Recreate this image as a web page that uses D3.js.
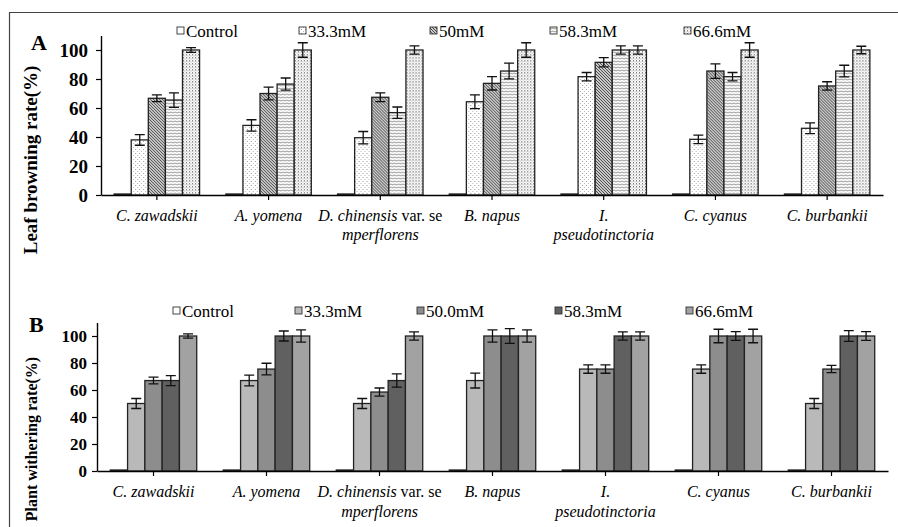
<!DOCTYPE html>
<html>
<head>
<meta charset="utf-8">
<script src="https://cdn.jsdelivr.net/npm/d3@7"></script>
<style>
  body { margin: 0; background: #fff; }
  svg { display: block; }
  text { font-family: "Liberation Serif", "Times New Roman", serif; fill: #000; }
</style>
</head>
<body>
<svg width="898" height="527"></svg>
<script>
// ---- data ----
const categories = ['C. zawadskii', 'A. yomena', 'D. chinensis var. semperflorens', 'B. napus',
  'I. pseudotinctoria', 'C. cyanus', 'C. burbankii'];
// label lines as printed under the axis
const categoryLines = [['C. zawadskii'], ['A. yomena'], ['D. chinensis var. se', 'mperflorens'],
  ['B. napus'], ['I.', 'pseudotinctoria'], ['C. cyanus'], ['C. burbankii']];

const seriesA = ['Control', '33.3mM', '50mM', '58.3mM', '66.6mM'];
const seriesB = ['Control', '33.3mM', '50.0mM', '58.3mM', '66.6mM'];
const yTicks = [0, 20, 40, 60, 80, 100];

// leaf browning rate (%), rows = categories, cols = series
const browning = [
  [0, 38, 66.7, 65.5, 100],
  [0, 48, 70, 76.5, 100],
  [0, 39.5, 67.4, 56.8, 100],
  [0, 64.3, 77, 85.5, 100],
  [0, 81.6, 91.5, 100, 100],
  [0, 38.4, 85.5, 81.6, 100],
  [0, 46, 75.2, 85.5, 100]
];
const browningErr = [
  [0, 3.7, 2.3, 5, 1.7],
  [0, 3.9, 4.4, 4.2, 5],
  [0, 4.3, 3, 3.9, 2.9],
  [0, 4.7, 4.6, 5.4, 5],
  [0, 2.9, 3.2, 2.9, 2.9],
  [0, 2.9, 5, 2.9, 5],
  [0, 3.7, 2.9, 4, 2.6]
];

// plant withering rate (%)
const withering = [
  [0, 50, 67, 67, 100],
  [0, 67, 75.5, 100, 100],
  [0, 50, 58.5, 67, 100],
  [0, 67, 100, 100, 100],
  [0, 75.5, 75.5, 100, 100],
  [0, 75.5, 100, 100, 100],
  [0, 50, 75.5, 100, 100]
];
const witheringErr = [
  [0, 3.7, 2.5, 3.7, 1.6],
  [0, 4, 4.3, 3.7, 4.6],
  [0, 3.7, 3, 4.9, 3.1],
  [0, 5.5, 4.6, 5.5, 4.6],
  [0, 3.1, 3.1, 3.1, 3.1],
  [0, 3.1, 5, 3.3, 5],
  [0, 3.7, 2.7, 4, 3.3]
];

// ---- drawing ----
const svg = d3.select('svg');
const defs = svg.append('defs');

function pattern(id, w, h, draw) {
  const p = defs.append('pattern')
    .attr('id', id)
    .attr('patternUnits', 'userSpaceOnUse')
    .attr('width', w)
    .attr('height', h);
  p.append('rect').attr('width', w).attr('height', h).attr('fill', '#fff');
  draw(p);
}
pattern('p33', 4, 4, (p) => {
  p.append('rect').attr('x', 1).attr('y', 1).attr('width', 1).attr('height', 1).attr('fill', '#999');
  p.append('rect').attr('x', 3).attr('y', 3).attr('width', 1).attr('height', 1).attr('fill', '#bbb');
});
pattern('p50', 3, 3, (p) => {
  p.append('path')
    .attr('d', 'M0,0L3,3M-1,2L1,4M2,-1L4,1')
    .attr('stroke', '#444')
    .attr('stroke-width', 1.1);
});
pattern('p58', 4, 3, (p) => {
  p.append('path')
    .attr('d', 'M0,1.5Q1,0.4 2,1.5T4,1.5')
    .attr('fill', 'none')
    .attr('stroke', '#777')
    .attr('stroke-width', 0.8);
});
pattern('p66', 3, 3, (p) => {
  p.append('rect').attr('x', 0).attr('y', 0).attr('width', 1).attr('height', 1.5).attr('fill', '#777');
  p.append('rect').attr('x', 1.5).attr('y', 1.5).attr('width', 1).attr('height', 1).attr('fill', '#999');
});

const fillsA = ['#fff', 'url(#p33)', 'url(#p50)', 'url(#p58)', 'url(#p66)'];
const fillsB = ['#fff', '#b9b9b9', '#8d8d8d', '#606060', '#a2a2a2'];

// frame
svg.append('path')
  .attr('d', 'M9.5,527V12.5H898')
  .attr('fill', 'none')
  .attr('stroke', '#444')
  .attr('stroke-width', 1.2);

function drawPanel(cfg) {
  const x0 = d3.scaleBand()
    .domain(categories)
    .range(cfg.xRange)
    .paddingInner(0.235)
    .paddingOuter(0.1175);
  const x1 = d3.scaleBand().domain(cfg.series).range([0, x0.bandwidth()]);
  const y = d3.scaleLinear().domain([0, 110]).range(cfg.yRange);

  const g = svg.append('g');

  // y axis
  const ya = g.append('g')
    .attr('transform', `translate(${cfg.xRange[0]},0)`)
    .call(d3.axisLeft(y).tickValues(yTicks).tickSize(5).tickPadding(cfg.tickPad).tickSizeOuter(0));
  ya.select('.domain').attr('stroke', '#000').attr('stroke-width', 1.4);
  ya.selectAll('.tick line').attr('stroke', '#000').attr('stroke-width', 1.2);
  ya.selectAll('.tick text')
    .attr('font-family', '"Liberation Serif", serif')
    .attr('font-weight', 'bold')
    .attr('font-size', cfg.tickFont)
    .attr('fill', '#000');

  // bars
  const groups = g.selectAll('.grp')
    .data(cfg.values)
    .enter()
    .append('g')
    .attr('transform', (d, i) => `translate(${x0(categories[i])},0)`);

  groups.selectAll('rect')
    .data((d, i) => d.map((v, j) => ({ v, j, e: cfg.errs[i][j] })))
    .enter()
    .append('rect')
    .attr('x', (d) => x1(cfg.series[d.j]))
    .attr('y', (d) => Math.min(y(d.v), y(0) - 1))
    .attr('width', x1.bandwidth())
    .attr('height', (d) => Math.max(1, y(0) - y(d.v)))
    .attr('fill', (d) => cfg.fills[d.j])
    .attr('stroke', '#222')
    .attr('stroke-width', 1.3);

  // error bars
  const eb = groups.selectAll('.err')
    .data((d, i) => d.map((v, j) => ({ v, j, e: cfg.errs[i][j] })).filter((d) => d.e > 0))
    .enter()
    .append('g')
    .attr('transform', (d) => `translate(${x1(cfg.series[d.j]) + x1.bandwidth() / 2},0)`);
  eb.append('path')
    .attr('d', (d) => `M0,${y(d.v - d.e)}V${y(d.v + d.e)}M-5,${y(d.v - d.e)}H5M-5,${y(d.v + d.e)}H5`)
    .attr('fill', 'none')
    .attr('stroke', '#111')
    .attr('stroke-width', 1.3);

  // x axis
  const xa = g.append('g')
    .attr('transform', `translate(0,${y(0)})`)
    .call(d3.axisBottom(x0).tickSize(5).tickSizeOuter(0).tickFormat(''));
  xa.select('.domain').attr('stroke', '#000').attr('stroke-width', 1.4);
  xa.selectAll('.tick line').attr('stroke', '#000').attr('stroke-width', 1.2);

  // category labels
  categories.forEach((c, i) => {
    const t = g.append('text')
      .attr('text-anchor', 'middle')
      .attr('font-size', 16)
      .attr('font-style', 'italic');
    categoryLines[i].forEach((line, k) => {
      const parts = line.split(/(var\. se)/).filter((s) => s.length);
      parts.forEach((part, pi) => {
        const ts = t.append('tspan').text(part);
        if (pi === 0) ts.attr('x', x0(c) + x0.bandwidth() / 2).attr('y', cfg.labelY + k * cfg.lineGap);
        if (part === 'var. se') ts.attr('font-style', 'normal');
      });
    });
  });

  // legend
  cfg.series.forEach((s, j) => {
    const lx = cfg.legendX[j];
    g.append('rect')
      .attr('x', lx)
      .attr('y', cfg.legendY - 10)
      .attr('width', 7)
      .attr('height', 7)
      .attr('fill', cfg.fills[j])
      .attr('stroke', '#333')
      .attr('stroke-width', 0.9);
    g.append('text')
      .attr('x', lx + 9)
      .attr('y', cfg.legendY)
      .attr('font-size', 17)
      .text(s);
  });

  // panel letter and y title
  g.append('text')
    .attr('x', cfg.letterPos[0])
    .attr('y', cfg.letterPos[1])
    .attr('font-size', 22)
    .attr('font-weight', 'bold')
    .text(cfg.letter);
  g.append('text')
    .attr('transform', `translate(${cfg.titlePos[0]},${cfg.titlePos[1]}) rotate(-90)`)
    .attr('text-anchor', 'middle')
    .attr('font-size', cfg.titleFont)
    .attr('font-weight', 'bold')
    .text(cfg.title);
}

drawPanel({
  values: browning,
  errs: browningErr,
  series: seriesA,
  fills: fillsA,
  xRange: [101, 883],
  yRange: [195, 35.5],
  tickPad: 8,
  tickFont: 19,
  labelY: 221,
  lineGap: 19,
  legendX: [177, 299, 430, 550, 684],
  legendY: 37,
  letter: 'A',
  letterPos: [31, 50],
  title: 'Leaf browning rate(%)',
  titlePos: [37, 160],
  titleFont: 19
});

drawPanel({
  values: withering,
  errs: witheringErr,
  series: seriesB,
  fills: fillsB,
  xRange: [97, 888],
  yRange: [471, 322.5],
  tickPad: 5,
  tickFont: 17,
  labelY: 497,
  lineGap: 20,
  legendX: [173, 295, 417, 555, 686],
  legendY: 317,
  letter: 'B',
  letterPos: [29, 332],
  title: 'Plant withering rate(%)',
  titlePos: [37, 439],
  titleFont: 16
});
</script>
</body>
</html>
